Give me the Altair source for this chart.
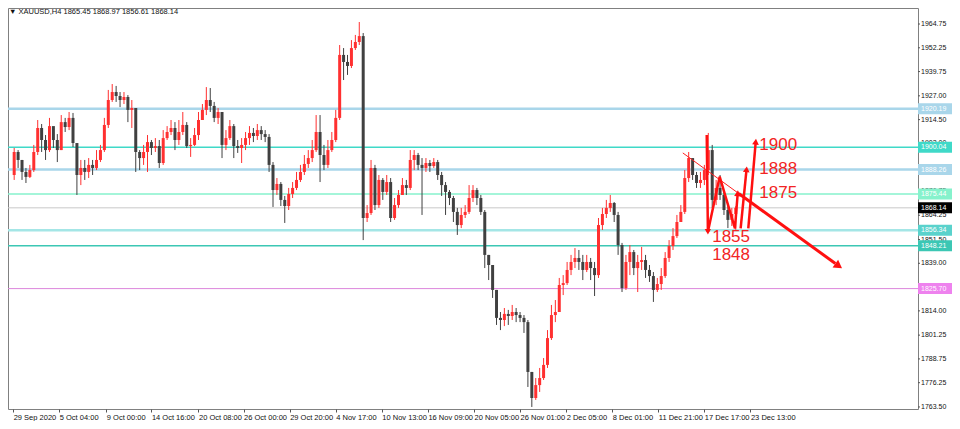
import math
import altair as alt
import pandas as pd

# ---------------- data ----------------
first_open = 1885.4
closes = [1897.5, 1893.3, 1887.0, 1884.4, 1888.0, 1897.5, 1910.1, 1903.8, 1898.5, 1911.1,
          1903.8, 1898.5, 1913.2, 1910.6, 1915.4, 1902.2, 1885.4, 1889.1, 1887.0, 1890.7,
          1889.1, 1893.3, 1898.5, 1911.7, 1924.8, 1929.0, 1926.9, 1924.8, 1926.4, 1919.6,
          1920.6, 1897.5, 1894.3, 1897.5, 1902.7, 1899.6, 1900.6, 1891.7, 1904.8, 1908.0,
          1910.1, 1903.8, 1908.0, 1911.7, 1900.6, 1901.2, 1906.4, 1914.3, 1919.6, 1924.8,
          1921.7, 1915.4, 1918.5, 1901.2, 1904.8, 1911.1, 1900.6, 1899.6, 1901.2, 1904.8,
          1907.5, 1905.9, 1909.0, 1906.9, 1905.4, 1890.7, 1877.5, 1880.7, 1872.3, 1869.1,
          1875.4, 1878.6, 1882.8, 1887.0, 1891.2, 1894.3, 1898.5, 1908.0, 1895.9, 1890.7,
          1898.5, 1903.8, 1915.4, 1948.5, 1944.8, 1942.7, 1952.1, 1955.3, 1958.4, 1862.8,
          1865.4, 1889.1, 1869.6, 1882.8, 1876.5, 1881.7, 1862.8, 1869.6, 1874.9, 1880.1,
          1878.6, 1893.3, 1895.9, 1890.7, 1889.1, 1891.7, 1890.1, 1892.2, 1885.4, 1880.1,
          1876.5, 1873.3, 1866.0, 1859.1, 1864.4, 1866.0, 1873.3, 1877.5, 1873.3, 1866.0,
          1843.4, 1838.1, 1825.0, 1810.3, 1809.2, 1812.4, 1811.3, 1813.4, 1811.8, 1810.3,
          1808.1, 1781.9, 1768.2, 1775.0, 1778.7, 1785.6, 1799.7, 1811.8, 1813.4, 1827.6,
          1828.6, 1835.5, 1839.7, 1841.8, 1839.7, 1835.5, 1839.7, 1836.5, 1832.8, 1859.1,
          1864.9, 1868.1, 1870.7, 1864.4, 1848.6, 1826.0, 1839.7, 1844.9, 1836.5, 1839.7,
          1840.7, 1835.5, 1832.3, 1825.0, 1828.1, 1832.3, 1841.8, 1848.1, 1853.3, 1860.7,
          1866.0, 1883.8, 1894.3, 1885.4, 1881.2, 1882.8, 1888.0, 1898.5, 1872.3, 1878.6,
          1874.9, 1867.0, 1861.8, 1864.9, 1868.14]
highs = [1899.6, 1898.5, 1893.3, 1889.1, 1890.7, 1901.2, 1914.3, 1912.2, 1906.4, 1915.4,
         1910.1, 1906.9, 1916.9, 1915.4, 1918.5, 1918.0, 1901.2, 1893.3, 1893.3, 1894.3,
         1893.3, 1898.5, 1901.2, 1915.4, 1930.1, 1933.2, 1932.2, 1929.0, 1929.0, 1927.4,
         1924.8, 1920.6, 1898.5, 1901.2, 1906.4, 1903.8, 1904.8, 1903.8, 1909.0, 1911.1,
         1914.3, 1913.2, 1914.3, 1918.5, 1913.2, 1904.8, 1910.1, 1918.5, 1922.7, 1931.6,
         1931.1, 1923.8, 1920.6, 1918.5, 1909.0, 1914.3, 1912.2, 1903.8, 1904.8, 1908.0,
         1911.1, 1910.1, 1912.2, 1911.1, 1909.0, 1906.9, 1892.2, 1883.8, 1881.7, 1874.4,
         1878.6, 1881.7, 1887.0, 1890.7, 1895.9, 1898.5, 1903.8, 1916.9, 1916.9, 1901.2,
         1903.8, 1908.0, 1919.6, 1953.7, 1952.1, 1948.5, 1956.3, 1959.0, 1965.8, 1960.0,
         1869.6, 1893.3, 1890.7, 1885.4, 1883.8, 1885.4, 1883.8, 1873.3, 1877.5, 1883.8,
         1882.8, 1898.5, 1898.5, 1897.0, 1894.3, 1894.3, 1893.3, 1894.3, 1893.3, 1887.0,
         1881.7, 1877.5, 1874.4, 1868.1, 1868.1, 1869.6, 1880.1, 1880.1, 1878.6, 1874.9,
         1867.0, 1843.4, 1833.9, 1825.0, 1813.4, 1815.5, 1814.5, 1817.1, 1815.5, 1813.4,
         1811.8, 1809.2, 1781.9, 1778.7, 1784.0, 1789.2, 1803.9, 1817.1, 1819.7, 1831.3,
         1832.8, 1839.7, 1843.4, 1847.0, 1846.0, 1843.4, 1843.4, 1841.8, 1839.7, 1862.8,
         1868.1, 1872.3, 1874.9, 1871.2, 1866.0, 1849.7, 1843.4, 1848.6, 1846.0, 1843.4,
         1847.6, 1843.4, 1838.1, 1834.4, 1831.3, 1836.5, 1844.9, 1851.2, 1857.5, 1864.4,
         1869.6, 1888.0, 1897.5, 1893.3, 1887.0, 1887.0, 1890.7, 1907.5, 1901.2, 1882.8,
         1885.4, 1877.5, 1869.6, 1868.1, 1868.97]
lows = [1882.8, 1889.1, 1882.8, 1881.2, 1883.8, 1887.0, 1895.9, 1897.5, 1893.3, 1897.5,
        1899.6, 1892.2, 1898.5, 1908.0, 1909.0, 1900.1, 1874.9, 1880.1, 1882.8, 1883.8,
        1885.4, 1888.0, 1892.2, 1897.5, 1910.1, 1923.8, 1923.8, 1921.1, 1922.7, 1913.2,
        1910.1, 1887.0, 1888.0, 1890.7, 1887.0, 1895.9, 1897.5, 1889.1, 1890.7, 1903.8,
        1906.4, 1898.5, 1901.2, 1906.4, 1899.6, 1894.9, 1900.6, 1903.8, 1914.3, 1916.9,
        1918.5, 1913.2, 1912.2, 1894.3, 1898.5, 1903.8, 1894.3, 1897.0, 1891.7, 1898.5,
        1901.2, 1902.7, 1903.8, 1903.8, 1902.7, 1887.0, 1868.6, 1874.9, 1869.1, 1860.2,
        1867.0, 1873.3, 1877.5, 1881.7, 1885.4, 1889.1, 1892.2, 1897.5, 1881.7, 1888.0,
        1889.1, 1897.5, 1902.7, 1914.3, 1935.3, 1938.0, 1941.6, 1951.1, 1953.7, 1851.2,
        1860.7, 1864.4, 1867.0, 1868.1, 1872.3, 1874.9, 1860.7, 1861.8, 1868.1, 1874.9,
        1874.9, 1877.5, 1888.0, 1888.0, 1864.4, 1887.0, 1887.0, 1889.1, 1882.8, 1874.4,
        1864.4, 1869.6, 1860.7, 1853.9, 1857.5, 1862.8, 1864.9, 1871.2, 1869.6, 1864.4,
        1836.5, 1830.2, 1820.8, 1806.6, 1803.9, 1806.0, 1806.6, 1809.2, 1808.1, 1808.1,
        1802.4, 1774.0, 1763.5, 1767.2, 1771.4, 1777.7, 1784.0, 1798.7, 1808.1, 1813.4,
        1822.3, 1827.6, 1832.8, 1836.5, 1835.5, 1830.2, 1834.4, 1830.2, 1821.8, 1831.3,
        1856.5, 1862.8, 1866.0, 1860.7, 1843.4, 1823.9, 1825.0, 1832.8, 1832.8, 1823.9,
        1835.5, 1831.3, 1829.2, 1818.7, 1823.9, 1825.0, 1831.3, 1839.7, 1846.0, 1852.3,
        1860.7, 1864.9, 1881.7, 1882.8, 1878.6, 1878.6, 1880.1, 1885.4, 1868.1, 1869.6,
        1872.3, 1864.4, 1857.5, 1858.6, 1856.61]

# horizontal levels
level_prices = [1920.19, 1900.04, 1888.26, 1875.44, 1868.14, 1856.34, 1848.21, 1825.70]
level_texts = ["1920.19", "1900.04", "1888.26", "1875.44", "1868.14", "1856.34", "1848.21", "1825.70"]

# price axis ticks
y_ticks = [1964.75, 1952.25, 1939.75, 1927.00, 1914.50, 1902.00, 1889.25, 1876.75, 1864.25,
           1851.50, 1839.00, 1826.50, 1814.00, 1801.25, 1788.75, 1776.25, 1763.50]

# time axis ticks (position in candle units) and labels
x_ticks = [-0.25, 11.5, 23.5, 35, 47, 58.5, 70.25, 82, 93.75, 105.5, 117.25, 129, 140.75,
           152.5, 164.25, 176, 187.75]
x_labels = ["29 Sep 2020", "5 Oct 04:00", "9 Oct 00:00", "14 Oct 16:00", "20 Oct 08:00",
            "26 Oct 00:00", "29 Oct 20:00", "4 Nov 17:00", "10 Nov 13:00", "16 Nov 09:00",
            "20 Nov 05:00", "26 Nov 01:00", "2 Dec 05:00", "8 Dec 01:00", "11 Dec 21:00",
            "17 Dec 17:00", "23 Dec 13:00"]

# hand-drawn annotation: zigzag
zig_seg = [0, 0, 0, 0, 0, 1, 1, 2, 2]
zig_k = [176.6, 176.9, 179.9, 183.8, 184.5, 185.25, 186.75, 187.2, 189.1]
zig_p = [1906.4, 1855.6, 1884.5, 1857.4, 1875.8, 1857.4, 1888.4, 1857.4, 1902.9]
# trend line (thin part, thick part)
trend_thin_k = [170.5, 184.75]
trend_thin_p = [1897.0, 1875.7]
trend_thick_k = [184.75, 209.4]
trend_thick_p = [1875.7, 1838.9]
trend_tip = (210.25, 1837.6)

ann_texts = ["1900", "1888", "1875", "1855", "1848"]
ann_k = [190, 190, 190, 178, 178]
ann_p = [1901.2, 1888.8, 1876.2, 1852.6, 1843.6]

header = "\u25bc XAUUSD,H4  1865.45 1868.97 1856.61 1868.14"

# ---------------- styles ----------------
W, H = 910, 401
X_DOM = [-0.3, 229.2]
Y_DOM = [1762.43, 1973.16]
px_x = W / (X_DOM[1] - X_DOM[0])
px_y = H / (Y_DOM[1] - Y_DOM[0])
level_colors = ["#a9d6ea", "#3fd9c8", "#a9d6ea", "#86f2cc", "#c8c8c8", "#a4e6e6", "#3cc7b4", "#dc86dc"]
level_box = ["#a9d6ea", "#3fd9c8", "#a9d6ea", "#86f2cc", "#000000", "#5ad2cc", "#3cc7b4", "#ee82ee"]
level_widths = [2.5, 1.5, 2.5, 1.5, 1, 2.5, 1.5, 1]
FONT = "Liberation Sans"

xs = alt.Scale(domain=X_DOM, nice=False, zero=False)
ys = alt.Scale(domain=Y_DOM, nice=False, zero=False)

opens = [first_open] + closes[:-1]
candles = pd.DataFrame({
    "k": list(range(len(closes))),
    "open": opens, "close": closes, "high": highs, "low": lows,
})
candles["dir"] = ["up" if c >= o else "down" for o, c in zip(opens, closes)]

label_expr = ("[" + ",".join("'%s'" % s for s in x_labels) + "][indexof(["
              + ",".join(str(v) for v in x_ticks) + "], datum.value)]")

x_axis = alt.Axis(values=x_ticks, labelExpr=label_expr, title=None, grid=False, domain=False,
                  tickSize=3, tickColor="#555", labelAlign="left", labelBaseline="top",
                  labelPadding=1, labelFontSize=7.5, labelFont=FONT, labelColor="#111",
                  labelFlush=False, labelOverlap=False, labelBound=False)


def Y(field):
    return alt.Y(field, scale=ys, axis=None)


wicks = alt.Chart(candles).mark_rule(strokeWidth=1).encode(
    x=alt.X("k:Q", scale=xs, axis=x_axis),
    y=Y("low:Q"),
    y2="high:Q",
    color=alt.Color("dir:N", scale=alt.Scale(domain=["up", "down"], range=["#ff3030", "#404040"]), legend=None),
)
bodies = alt.Chart(candles).mark_bar(size=3).encode(
    x=alt.X("k:Q", scale=xs),
    y=Y("open:Q"),
    y2="close:Q",
    color=alt.Color("dir:N", scale=alt.Scale(domain=["up", "down"], range=["#ff0000", "#000000"]), legend=None),
)

# manual price axis on the right
yt = pd.DataFrame({"v": y_ticks})
y_tick_marks = alt.Chart(yt).mark_rule(color="#555", strokeWidth=1).encode(
    y=Y("v:Q"), x=alt.value(W), x2=alt.value(W + 2))
y_tick_text = alt.Chart(yt).mark_text(fontSize=7, font=FONT, color="#111", align="left",
                                      baseline="middle").encode(
    y=Y("v:Q"), x=alt.value(W + 3), text=alt.Text("v:Q", format=".2f"))

rules = []
boxes = []
half = 5.5 / px_y
for pr, txt, col, bcol, sw in zip(level_prices, level_texts, level_colors, level_box, level_widths):
    d = pd.DataFrame({"p": [pr], "lo": [pr - half], "hi": [pr + half], "t": [txt]})
    rules.append(alt.Chart(d).mark_rule(color=col, strokeWidth=sw).encode(
        y=Y("p:Q"), x=alt.value(0), x2=alt.value(W)))
    boxes.append(alt.Chart(d).mark_rect(color=bcol).encode(
        x=alt.value(W), x2=alt.value(W + 34), y=Y("lo:Q"), y2="hi:Q"))
    boxes.append(alt.Chart(d).mark_text(color="white", fontSize=7, font=FONT, align="left",
                                        baseline="middle").encode(
        x=alt.value(W + 3), y=Y("p:Q"), text="t:N"))

zig = pd.DataFrame({"seg": zig_seg, "k": zig_k, "p": zig_p, "o": list(range(len(zig_k)))})
zig_line = alt.Chart(zig).mark_line(color="#ff1010", strokeWidth=2.5, strokeJoin="miter").encode(
    x=alt.X("k:Q", scale=xs), y=Y("p:Q"), detail="seg:N", order="o:Q")

thin = pd.DataFrame({"k": trend_thin_k, "p": trend_thin_p})
thin_line = alt.Chart(thin).mark_line(color="#ff2020", strokeWidth=1).encode(
    x=alt.X("k:Q", scale=xs), y=Y("p:Q"))
thick = pd.DataFrame({"k": trend_thick_k, "p": trend_thick_p})
thick_line = alt.Chart(thick).mark_line(color="#ff1010", strokeWidth=3).encode(
    x=alt.X("k:Q", scale=xs), y=Y("p:Q"))


def ang(k0, p0, k1, p1):
    dx = (k1 - k0) * px_x
    dy = -(p1 - p0) * px_y
    a = math.degrees(math.atan2(dx, -dy))
    return a % 360


tips = pd.DataFrame({
    "k": [zig_k[1], zig_k[4], zig_k[6], zig_k[8], trend_tip[0]],
    "p": [zig_p[1], zig_p[4], zig_p[6], zig_p[8], trend_tip[1]],
    "a": [ang(zig_k[0], zig_p[0], zig_k[1], zig_p[1]), ang(zig_k[3], zig_p[3], zig_k[4], zig_p[4]),
          ang(zig_k[5], zig_p[5], zig_k[6], zig_p[6]), ang(zig_k[7], zig_p[7], zig_k[8], zig_p[8]),
          ang(trend_thick_k[0], trend_thick_p[0], trend_tip[0], trend_tip[1])],
    "s": [40, 45, 45, 45, 90],
})
arrows = alt.Chart(tips).mark_point(shape="triangle-up", filled=True, color="#ff1010", opacity=1).encode(
    x=alt.X("k:Q", scale=xs), y=Y("p:Q"),
    angle=alt.Angle("a:Q", scale=None), size=alt.Size("s:Q", scale=None, legend=None))

ann = pd.DataFrame({"t": ann_texts, "k": ann_k, "p": ann_p})
ann_text = alt.Chart(ann).mark_text(color="#f22424", fontSize=17, font=FONT, align="left",
                                    baseline="middle").encode(
    x=alt.X("k:Q", scale=xs), y=Y("p:Q"), text="t:N")

head = alt.Chart(pd.DataFrame({"t": [header]})).mark_text(
    fontSize=7.5, font=FONT, align="left", baseline="middle", color="#111").encode(
    x=alt.value(1), y=alt.value(4), text="t:N")

chart = alt.layer(
    *rules, wicks, bodies, y_tick_marks, y_tick_text, *boxes,
    thin_line, thick_line, zig_line, arrows, ann_text, head
).properties(
    width=W, height=H,
    autosize=alt.AutoSizeParams(type="none"),
    padding={"left": 0, "top": 0, "right": 34, "bottom": 12},
    background="white",
).configure_view(stroke="#808080", strokeWidth=1)

chart.save("out.html", embed_options={"renderer": "svg", "actions": False})
